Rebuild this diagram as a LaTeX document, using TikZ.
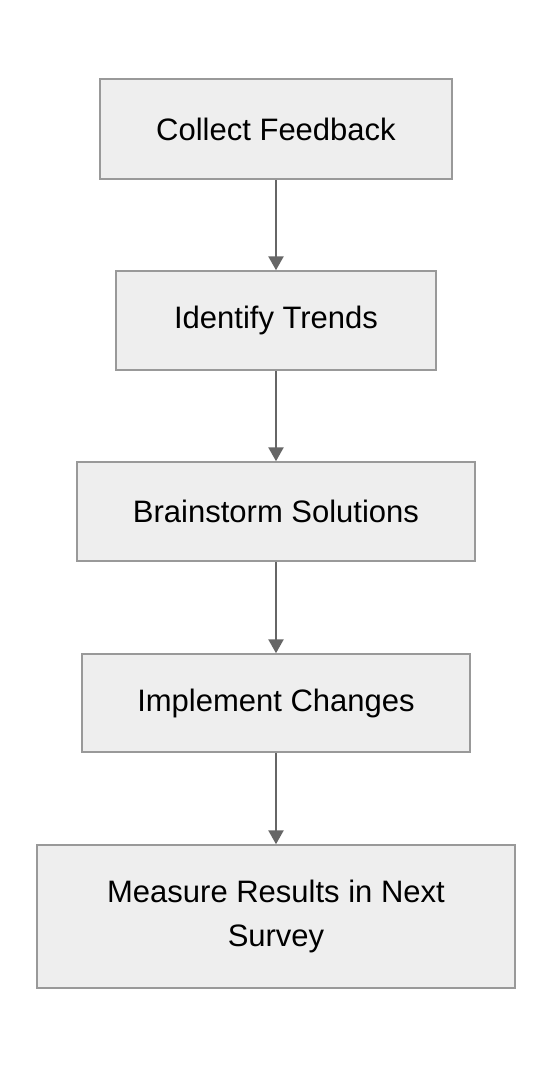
\documentclass[tikz,border=0pt]{standalone}
\usepackage{fontspec}
\setmainfont{Liberation Sans}
\usetikzlibrary{arrows.meta}
\definecolor{boxfill}{HTML}{EEEEEE}
\definecolor{boxline}{HTML}{999999}
\definecolor{arrowcol}{HTML}{666666}
\tikzset{
  stepbox/.style={draw=boxline, fill=boxfill, line width=1.5pt, rectangle, inner sep=0pt, font=\fontsize{31}{44}\selectfont, align=center},
  conn/.style={draw=arrowcol, line width=2.5pt, -{Triangle[length=14pt,width=15pt]}}
}
\begin{document}
\begin{tikzpicture}[x=1pt,y=-1pt]
\useasboundingbox (0,0) rectangle (552,1068);
\node[stepbox, minimum width=352pt, minimum height=100pt] (a) at (276,129) {Collect Feedback};
\node[stepbox, minimum width=320pt, minimum height=99pt] (b) at (276,320.5) {Identify Trends};
\node[stepbox, minimum width=398pt, minimum height=99pt] (c) at (276,511.5) {Brainstorm Solutions};
\node[stepbox, minimum width=388pt, minimum height=98pt] (d) at (276,703) {Implement Changes};
\node[stepbox, minimum width=478pt, minimum height=143pt] (e) at (276,916.5) {Measure Results in Next\\Survey};
\draw[conn] (a.south) -- (b.north);
\draw[conn] (b.south) -- (c.north);
\draw[conn] (c.south) -- (d.north);
\draw[conn] (d.south) -- (e.north);
\end{tikzpicture}
\end{document}
